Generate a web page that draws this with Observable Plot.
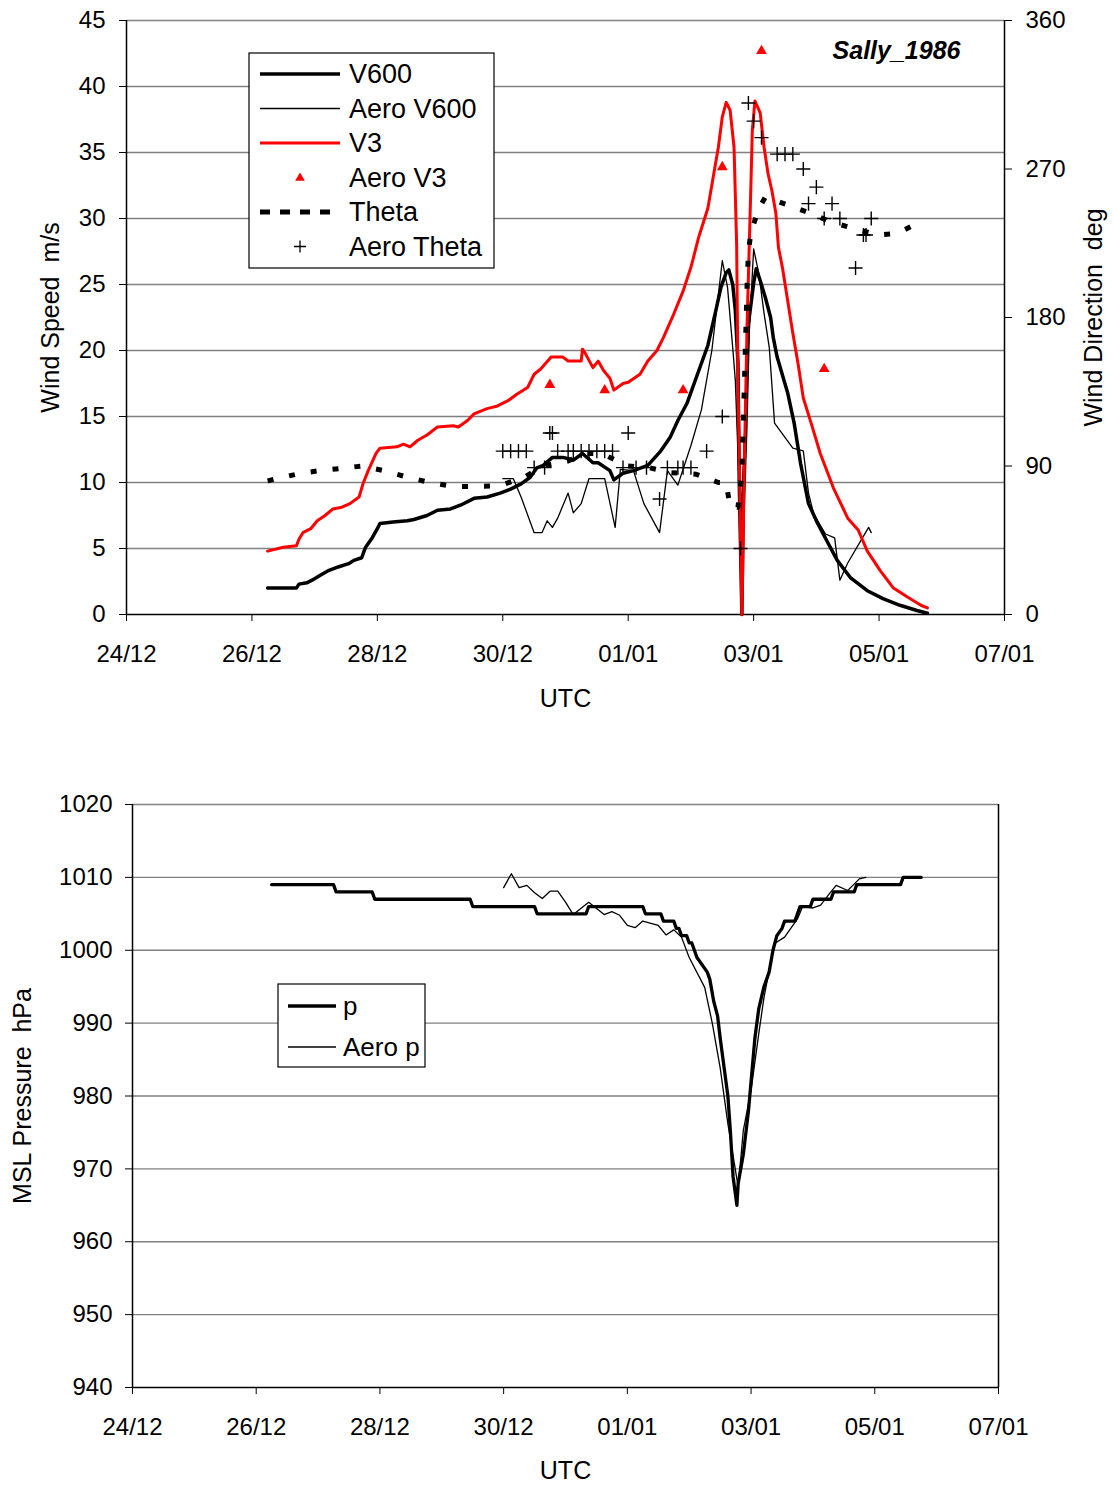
<!DOCTYPE html>
<html>
<head>
<meta charset="utf-8">
<script src="https://cdn.jsdelivr.net/npm/d3@7"></script>
<script src="https://cdn.jsdelivr.net/npm/@observablehq/plot@0.6"></script>
<style>
  body { margin: 0; background: #fff; }
  #chart { position: relative; width: 1113px; height: 1486px; font-family: "Liberation Sans", Arial, sans-serif; }
  #chart > svg { display: block; }
  #overlay { position: absolute; left: 0; top: 0; pointer-events: none; }
</style>
</head>
<body>
<div id="chart"></div>
<script>
// ---- Tropical cyclone Sally, Dec 1986 – Jan 1987 (times UTC, "DD/MM HH") ----

// model wind speed at 600 m (m/s)
const v600 = [
  ["26/12 06",2.0],["26/12 17",2.0],["26/12 18",2.3],["26/12 21",2.4],["26/12 23",2.6],["27/12 02",2.95],
  ["27/12 05",3.3],["27/12 09",3.6],["27/12 13",3.85],["27/12 15",4.1],["27/12 18",4.3],["27/12 19.5",5.1],
  ["27/12 22",5.8],["28/12 00",6.5],["28/12 01",6.9],["28/12 06",7.0],["28/12 11.5",7.1],["28/12 14",7.2],
  ["28/12 19",7.5],["28/12 23",7.9],["29/12 04",8.0],["29/12 08",8.3],["29/12 13",8.8],["29/12 18",8.9],
  ["29/12 23",9.2],["30/12 03",9.5],["30/12 07",9.9],["30/12 10.5",10.4],["30/12 13",11.1],["30/12 15.5",11.3],
  ["30/12 19",11.9],["30/12 23",11.9],["31/12 03",11.7],["31/12 06.5",12.2],["31/12 10.5",11.5],["31/12 12.5",11.5],
  ["31/12 17",10.9],["31/12 18.5",10.2],["31/12 22",10.7],["01/01 02",10.9],["01/01 07.5",11.3],["01/01 12.5",12.4],
  ["01/01 16",13.4],["01/01 19",14.7],["01/01 22.5",16.0],["02/01 02.5",18.2],["02/01 06.5",20.4],["02/01 09.5",23.0],
  ["02/01 11.5",24.8],["02/01 13.5",25.9],["02/01 14.5",26.1],["02/01 16",25.0],["02/01 17",23.0],["02/01 18",19.0],
  ["02/01 18.5",10.0],["02/01 19.5",0.0],["02/01 20",8.0],["02/01 21",14.0],["02/01 22",22.0],["03/01 00",25.1],
  ["03/01 01",26.2],["03/01 02.5",25.3],["03/01 04.5",24.0],["03/01 06.5",22.5],["03/01 07.5",21.0],["03/01 09",19.5],
  ["03/01 13",16.8],["03/01 15.5",14.5],["03/01 18",11.4],["03/01 21",8.4],["04/01 00.5",6.9],["04/01 04.5",5.4],
  ["04/01 08",4.1],["04/01 13",2.8],["04/01 19.5",1.8],["05/01 01.5",1.2],["05/01 08",0.7],["05/01 14.5",0.3],
  ["05/01 18.5",0.1]
];

// aerodrome observations reduced to 600 m (m/s)
const aeroV600 = [
  ["30/12 00",10.3],["30/12 04",10.3],["30/12 07",8.9],["30/12 12",6.2],["30/12 15",6.2],["30/12 17",7.1],
  ["30/12 19",6.6],["30/12 21",7.3],["31/12 01",9.2],["31/12 03",7.7],["31/12 06",8.4],["31/12 09",10.3],
  ["31/12 15",10.3],["31/12 19",6.6],["31/12 21",11.0],["01/01 02",10.9],["01/01 06",8.4],["01/01 12",6.2],
  ["01/01 15",10.9],["01/01 19",9.8],["02/01 00",12.8],["02/01 04",15.5],["02/01 08",20.0],["02/01 12",26.8],
  ["02/01 14",24.8],["02/01 16",20.2],["02/01 17",17.7],["02/01 19",6.6],["02/01 22",20.2],["02/01 23.5",25.8],
  ["03/01 00",27.7],["03/01 02",25.8],["03/01 04",22.8],["03/01 06",20.2],["03/01 08",14.5],["03/01 15",12.6],
  ["03/01 19",12.4],["03/01 21",9.2],["03/01 23",7.6],["04/01 03.5",6.1],["04/01 07",5.8],["04/01 09",2.6],
  ["04/01 12",3.9],["04/01 20",6.6],["04/01 21",6.2]
];

// model wind speed at 3 m (m/s)
const v3 = [
  ["26/12 06",4.8],["26/12 12",5.1],["26/12 17",5.2],["26/12 18",5.7],["26/12 19.5",6.2],["26/12 22.5",6.5],
  ["27/12 01",7.1],["27/12 04",7.5],["27/12 07",8.0],["27/12 10",8.1],["27/12 13.5",8.4],["27/12 17",8.9],
  ["27/12 18.5",9.9],["27/12 20.5",10.9],["27/12 23.5",12.2],["28/12 01",12.6],["28/12 07.5",12.7],["28/12 10",12.9],
  ["28/12 12.5",12.7],["28/12 15.5",13.2],["28/12 19",13.6],["28/12 23",14.2],["29/12 05",14.3],["29/12 07",14.2],
  ["29/12 10.5",14.7],["29/12 13",15.2],["29/12 18",15.6],["29/12 22",15.8],["30/12 02",16.2],["30/12 05.5",16.7],
  ["30/12 09.5",17.2],["30/12 12",18.2],["30/12 14.5",18.6],["30/12 18.5",19.5],["30/12 23",19.5],["31/12 01",19.2],
  ["31/12 06",19.2],["31/12 06.5",20.1],["31/12 07.5",19.8],["31/12 10.5",18.7],["31/12 12.5",19.2],["31/12 14.5",18.5],
  ["31/12 17",17.9],["31/12 18.5",17.0],["31/12 22",17.5],["01/01 00",17.6],["01/01 04.5",18.2],["01/01 07.5",19.2],
  ["01/01 11",20.0],["01/01 13.5",21.0],["01/01 17.5",22.8],["01/01 21",24.5],["02/01 00",26.3],["02/01 03",28.6],
  ["02/01 06.5",30.8],["02/01 08.5",33.1],["02/01 10.5",35.4],["02/01 12",37.7],["02/01 13.5",38.8],["02/01 15",38.2],
  ["02/01 16.5",35.4],["02/01 17.5",28.0],["02/01 18",18.0],["02/01 19.5",0.0],["02/01 20.5",12.0],["02/01 21.5",22.0],
  ["02/01 23",32.9],["02/01 23.5",36.7],["03/01 00.5",38.9],["03/01 02.5",38.0],["03/01 04",35.4],["03/01 05.5",33.4],
  ["03/01 07",32.1],["03/01 08.5",30.4],["03/01 09.5",27.8],["03/01 11",26.3],["03/01 13",23.8],["03/01 15",21.3],
  ["03/01 17",19.0],["03/01 18",17.7],["03/01 19",16.4],["03/01 22",14.5],["04/01 01.5",12.2],["04/01 06.5",9.6],
  ["04/01 12",7.3],["04/01 16",6.4],["04/01 19.5",4.8],["05/01 00.5",3.3],["05/01 05.5",2.0],["05/01 11",1.3],
  ["05/01 16",0.7],["05/01 18.5",0.5]
];

// aerodrome wind speed at 3 m (m/s)
const aeroV3 = [
  ["30/12 18",17.4],["31/12 15",17.0],["01/01 21",17.0],["02/01 12",33.9],["03/01 03",42.7],["04/01 03",18.6]
];

// model wind direction (deg)
const theta = [
  ["26/12 06",81],["26/12 17",85],["27/12 01",87],["27/12 10",88.5],["27/12 18",90],["28/12 03",87],
  ["28/12 12",83],["28/12 20",80],["29/12 05",77.6],["29/12 14",77.6],["29/12 22.5",78],["30/12 08",83],
  ["30/12 15.5",90],["31/12 01",93],["31/12 07",97.6],["31/12 14.5",97.6],["31/12 16",96],["31/12 23.5",90],
  ["01/01 08",89],["01/01 16",86],["02/01 02",85],["02/01 10.5",80],["02/01 13.5",80],["02/01 15",65],
  ["02/01 18",65],["02/01 19.5",85],["02/01 20.5",142],["02/01 21.5",200],["02/01 22",220],["02/01 23",232],
  ["03/01 02",246],["03/01 04.5",253],["03/01 13.5",248],["03/01 22",243],["04/01 05.5",238],["04/01 14",234],
  ["04/01 23.5",230],["05/01 07",231],["05/01 14.5",237]
];

// aerodrome wind direction (deg)
const aeroTheta = [
  ["30/12 00",99],["30/12 03",99],["30/12 06",99],["30/12 09",99],["30/12 12",89],["30/12 16",89],
  ["30/12 18",110],["30/12 19",110],["30/12 21",99],["31/12 01",99],["31/12 03",99],["31/12 06",99],
  ["31/12 09",99],["31/12 12",99],["31/12 15",99],["31/12 18",99],["31/12 22",89],["01/01 00",110],
  ["01/01 03",89],["01/01 07",89],["01/01 12",70],["01/01 15",89],["01/01 19",89],["01/01 21",89],
  ["02/01 00",89],["02/01 06",99],["02/01 12",120],["02/01 19",40],["02/01 22",310],["03/01 00",299],
  ["03/01 03",289],["03/01 09",279],["03/01 12",279],["03/01 15",279],["03/01 19",270],["03/01 21",249],
  ["04/01 00",259],["04/01 03",240],["04/01 06",249],["04/01 09",240],["04/01 15",210],["04/01 18",230],
  ["04/01 19",230],["04/01 21",240]
];

// model MSL pressure (hPa)
const pModel = [
  ["26/12 06",1009],["27/12 06",1009],["27/12 07",1008],["27/12 21",1008],["27/12 22",1007],["29/12 11",1007],
  ["29/12 12",1006],["30/12 12",1006],["30/12 13",1005],["31/12 08",1005],["31/12 09",1006],["01/01 06",1006],
  ["01/01 07",1005],["01/01 13",1005],["01/01 14",1004],["01/01 18",1004],["01/01 19",1003],["01/01 20",1003],
  ["01/01 21",1002],["01/01 23",1002],["02/01 00",1001],["02/01 01",1001],["02/01 02",1000],["02/01 03",999],
  ["02/01 05",998],["02/01 07",997],["02/01 08",996],["02/01 09.5",993],["02/01 11",991],["02/01 12",988],
  ["02/01 13.5",984],["02/01 15",980],["02/01 16",975],["02/01 17",969],["02/01 18.5",965],["02/01 19",968],
  ["02/01 21",972],["02/01 23",978],["03/01 00.5",984],["03/01 01.5",988],["03/01 03",992],["03/01 05",995],
  ["03/01 07",997],["03/01 08.5",1000],["03/01 10",1002],["03/01 12",1003],["03/01 13",1004],["03/01 17",1004],
  ["03/01 18",1005],["03/01 19",1006],["03/01 23",1006],["04/01 00",1007],["04/01 07",1007],["04/01 08",1008],
  ["04/01 16",1008],["04/01 17",1009],["05/01 10",1009],["05/01 11",1010],["05/01 18",1010]
];

// aerodrome MSL pressure (hPa)
const pAero = [
  ["30/12 00",1008.6],["30/12 03",1010.5],["30/12 06",1008.6],["30/12 09",1008.9],["30/12 12",1007.9],
  ["30/12 15",1007.1],["30/12 18",1008.1],["30/12 21",1008.1],["31/12 00",1006.6],["31/12 03",1004.9],
  ["31/12 09",1006.6],["31/12 15",1004.9],["31/12 18",1005.3],["31/12 21",1004.8],["01/01 00",1003.4],
  ["01/01 03",1003.1],["01/01 06",1004.0],["01/01 12",1003.4],["01/01 15",1002.1],["01/01 18",1002.8],
  ["01/01 21",1001.8],["02/01 00",999.0],["02/01 06",994.9],["02/01 09",989.9],["02/01 12",983.9],
  ["02/01 15",976.2],["02/01 19",967.5],["02/01 21",975.3],["03/01 00",980.8],["03/01 03",988.6],
  ["03/01 05",993.5],["03/01 09",1000.9],["03/01 13",1001.8],["03/01 18",1004.3],["03/01 20",1006.0],
  ["04/01 00",1005.8],["04/01 03",1006.2],["04/01 06.5",1007.8],["04/01 09",1008.9],["04/01 13.5",1008.2],
  ["04/01 15.5",1008.9],["04/01 18",1009.8],["04/01 20.5",1010.0]
];

// axis ticks
const dateTicks = ["24/12","26/12","28/12","30/12","01/01","03/01","05/01","07/01"];
const speedTicks = [0,5,10,15,20,25,30,35,40,45];
const dirTicks = [0,90,180,270,360];
const pressureTicks = [940,950,960,970,980,990,1000,1010,1020];

// ---- helpers ----
const T = s => {
  const [dm, h] = s.split(" ");
  const [d, m] = dm.split("/").map(Number);
  return new Date(Date.UTC(m === 12 ? 1986 : 1987, m - 1, d) + Number(h) * 36e5);
};
const rows = pairs => pairs.map(([t, v]) => ({time: T(t), value: v}));
const dirToSpeed = d => d * 45 / 360;   // secondary axis: 0–360 deg shares the 0–45 m/s range
const xDomain = [T("24/12 00"), T("07/01 00")];
const xTickDates = dateTicks.map(s => T(s + " 00"));
const fmt = d3.utcFormat("%d/%m");
const plain = d => String(d);
const FONT = '"Liberation Sans", Arial, sans-serif';
const GRID = "#808080";

const chart = document.getElementById("chart");

// ---- wind chart ----
const wind = Plot.plot({
  width: 1113, height: 720,
  marginLeft: 126, marginRight: 109, marginTop: 20, marginBottom: 106,
  style: {fontFamily: FONT, fontSize: "24px", color: "black", background: "white", overflow: "visible"},
  x: {type: "utc", domain: xDomain},
  y: {domain: [0, 45]},
  marks: [
    Plot.gridY(speedTicks.filter(d => d > 0), {stroke: GRID, strokeOpacity: 1, strokeWidth: 1.4}),
    Plot.ruleY([0], {stroke: "black", strokeWidth: 1.5}),
    Plot.ruleX([xDomain[0]], {stroke: "black", strokeWidth: 1.5}),
    Plot.ruleX([xDomain[1]], {stroke: "black", strokeWidth: 1.5}),
    Plot.line(rows(aeroV600), {x: "time", y: "value", stroke: "black", strokeWidth: 1.3}),
    Plot.line(rows(v600), {x: "time", y: "value", stroke: "black", strokeWidth: 3.5}),
    Plot.line(rows(v3), {x: "time", y: "value", stroke: "#ff0000", strokeWidth: 3}),
    Plot.line(rows(theta), {x: "time", y: d => dirToSpeed(d.value), stroke: "black", strokeWidth: 5,
      strokeDasharray: "6,16", strokeLinecap: "butt"}),
    Plot.dot(rows(aeroV3), {x: "time", y: "value", symbol: "triangle", r: 4, fill: "#ff0000", stroke: "none"}),
    Plot.dot(rows(aeroTheta), {x: "time", y: d => dirToSpeed(d.value), symbol: "plus", r: 4.6, stroke: "black", strokeWidth: 1.4}),
    Plot.axisY(speedTicks, {anchor: "left", tickSize: 7, tickPadding: 14, label: null, tickFormat: plain}),
    Plot.axisY(dirTicks.map(dirToSpeed), {anchor: "right", tickSize: 7, tickPadding: 14, label: null,
      tickFormat: d => String(Math.round(d * 360 / 45))}),
    Plot.axisX(xTickDates, {anchor: "bottom", tickSize: 7, tickPadding: 23, tickFormat: fmt, label: null}),
    Plot.text(["Wind Speed  m/s"], {frameAnchor: "left", dx: -76, rotate: -90, textAnchor: "middle", lineAnchor: "middle", fontSize: 25}),
    Plot.text(["Wind Direction  deg"], {frameAnchor: "right", dx: 89, rotate: -90, textAnchor: "middle", lineAnchor: "middle", fontSize: 25}),
    Plot.text(["UTC"], {frameAnchor: "bottom", dy: 84, textAnchor: "middle", lineAnchor: "middle", fontSize: 25}),
    Plot.text(["Sally_1986"], {frameAnchor: "top-right", dx: -44, dy: 30, textAnchor: "end", lineAnchor: "middle",
      fontSize: 25, fontWeight: "bold", fontStyle: "italic"})
  ]
});
chart.appendChild(wind);

// ---- pressure chart ----
const pressure = Plot.plot({
  width: 1113, height: 766,
  marginLeft: 132, marginRight: 115, marginTop: 84, marginBottom: 99,
  style: {fontFamily: FONT, fontSize: "24px", color: "black", background: "white", overflow: "visible"},
  x: {type: "utc", domain: xDomain},
  y: {domain: [940, 1020]},
  marks: [
    Plot.gridY(pressureTicks.filter(d => d > 940), {stroke: GRID, strokeOpacity: 1, strokeWidth: 1.4}),
    Plot.ruleY([940], {stroke: "black", strokeWidth: 1.5}),
    Plot.ruleX([xDomain[0]], {stroke: "black", strokeWidth: 1.5}),
    Plot.ruleX([xDomain[1]], {stroke: "black", strokeWidth: 1.5}),
    Plot.line(rows(pAero), {x: "time", y: "value", stroke: "black", strokeWidth: 1.3}),
    Plot.line(rows(pModel), {x: "time", y: "value", stroke: "black", strokeWidth: 3.3}),
    Plot.axisY(pressureTicks, {anchor: "left", tickSize: 7, tickPadding: 13, label: null, tickFormat: plain}),
    Plot.axisX(xTickDates, {anchor: "bottom", tickSize: 7, tickPadding: 23, tickFormat: fmt, label: null}),
    Plot.text(["MSL Pressure  hPa"], {frameAnchor: "left", dx: -110, rotate: -90, textAnchor: "middle", lineAnchor: "middle", fontSize: 25}),
    Plot.text(["UTC"], {frameAnchor: "bottom", dy: 83, textAnchor: "middle", lineAnchor: "middle", fontSize: 25})
  ]
});
chart.appendChild(pressure);

// ---- legends (boxed, inside each plot area) ----
const overlay = d3.select(chart).append("svg")
  .attr("id", "overlay").attr("width", 1113).attr("height", 1486)
  .style("font-family", FONT);

function legend(x, y, w, h, rowY, fontSize, items) {
  const g = overlay.append("g");
  g.append("rect").attr("x", x).attr("y", y).attr("width", w).attr("height", h)
    .attr("fill", "white").attr("stroke", "black").attr("stroke-width", 1.2);
  items.forEach((it, i) => {
    const cy = rowY[i];
    const x0 = x + it.pad, x1 = x + it.pad + it.len, xm = (x0 + x1) / 2;
    if (it.kind === "line") {
      g.append("line").attr("x1", x0).attr("x2", x1).attr("y1", cy).attr("y2", cy)
        .attr("stroke", it.color).attr("stroke-width", it.width)
        .attr("stroke-dasharray", it.dash || null);
    } else if (it.kind === "triangle") {
      g.append("path").attr("transform", `translate(${xm},${cy})`)
        .attr("d", d3.symbol(d3.symbolTriangle, Math.PI * 3.6 * 3.6)()).attr("fill", it.color);
    } else if (it.kind === "plus") {
      g.append("path").attr("transform", `translate(${xm},${cy})`)
        .attr("d", d3.symbol(d3.symbolPlus, Math.PI * 4 * 4)()).attr("fill", "none")
        .attr("stroke", it.color).attr("stroke-width", 1.3);
    }
    g.append("text").attr("x", x1 + it.gap).attr("y", cy).attr("dy", "0.35em")
      .attr("font-size", fontSize).attr("fill", "black").text(it.label);
  });
}

legend(249, 53, 245, 215, [74, 108.5, 143, 178, 212, 246.5], 27, [
  {label: "V600", kind: "line", color: "black", width: 3.5, pad: 11, len: 80, gap: 9},
  {label: "Aero V600", kind: "line", color: "black", width: 1.3, pad: 11, len: 80, gap: 9},
  {label: "V3", kind: "line", color: "#ff0000", width: 3, pad: 11, len: 80, gap: 9},
  {label: "Aero V3", kind: "triangle", color: "#ff0000", pad: 11, len: 80, gap: 9},
  {label: "Theta", kind: "line", color: "black", width: 5, dash: "10,10", pad: 11, len: 80, gap: 9},
  {label: "Aero Theta", kind: "plus", color: "black", pad: 11, len: 80, gap: 9}
]);

legend(278, 984, 147, 83, [1006, 1047], 26, [
  {label: "p", kind: "line", color: "black", width: 3.3, pad: 10, len: 48, gap: 7},
  {label: "Aero p", kind: "line", color: "black", width: 1.3, pad: 10, len: 48, gap: 7}
]);
</script>
</body>
</html>
